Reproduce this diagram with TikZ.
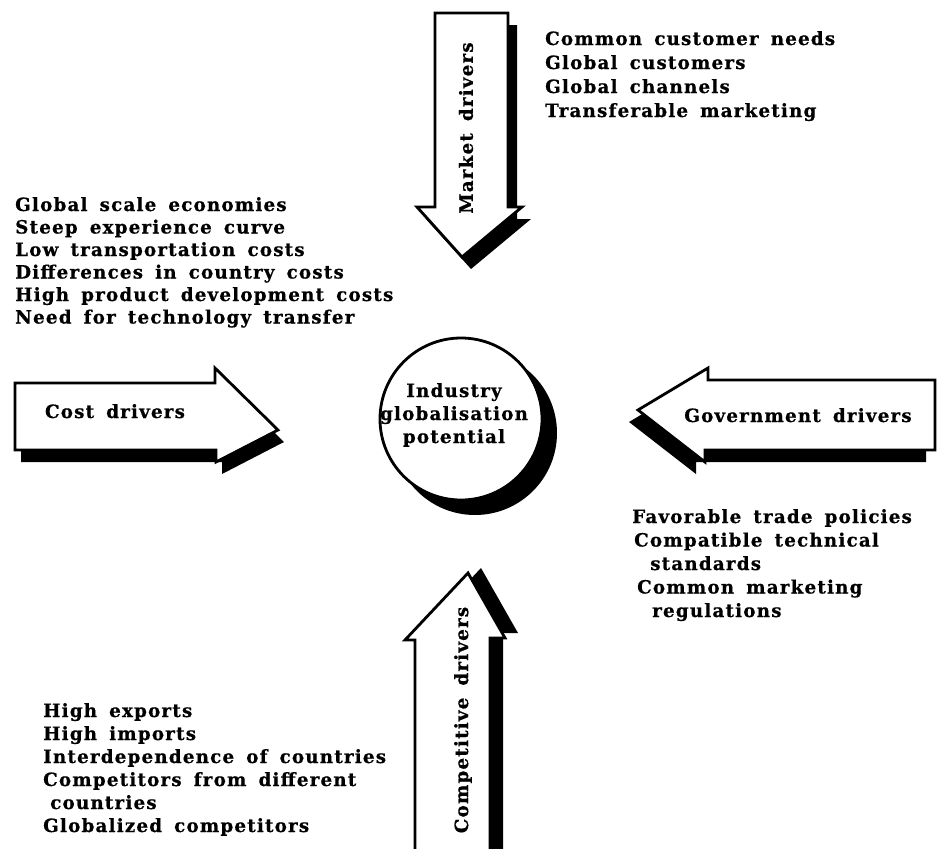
\documentclass[tikz,border=0pt]{standalone}
\usepackage{fontspec}
\newfontfamily\labfont[LetterSpace=6.5,WordSpace=1.6,FakeBold=0.6]{DejaVu Serif}
\begin{document}
\begin{tikzpicture}[x=1pt,y=-1pt,
  outline/.style={draw=black, line width=2.8pt, fill=white, line join=miter},
  shadowfill/.style={fill=black},
  lbl/.style={font=\labfont\bfseries\fontsize{18.3}{23}\selectfont, inner sep=0pt, anchor=base west},
  arrowlbl/.style={lbl, anchor=base},
  sidelbl/.style={lbl, anchor=center}]
\useasboundingbox (0,0) rectangle (938,849);

% Market drivers: arrow pointing down
\fill[shadowfill, shift={(9,12)}] (435,13) -- (508,13) -- (508,207) -- (522,207) -- (462,257) -- (417,207) -- (435,207) -- cycle;
\draw[outline] (435,13) -- (508,13) -- (508,207) -- (522,207) -- (462,257) -- (417,207) -- (435,207) -- cycle;
\node[sidelbl, rotate=90] (market) at (466,128) {Market drivers};

% Cost drivers: arrow pointing right
\fill[shadowfill, shift={(6,12)}] (15,383) -- (215,383) -- (215,368) -- (278,430) -- (216,462) -- (216,450) -- (15,450) -- cycle;
\draw[outline] (15,383) -- (215,383) -- (215,368) -- (278,430) -- (216,462) -- (216,450) -- (15,450) -- cycle;
\node[arrowlbl] (cost) at (115,418) {Cost drivers};

% Government drivers: arrow pointing left
\fill[shadowfill, shift={(-9,12)}] (935,380) -- (708,380) -- (708,368) -- (638,410) -- (705,462) -- (705,450) -- (935,450) -- cycle;
\draw[outline] (935,380) -- (708,380) -- (708,368) -- (638,410) -- (705,462) -- (705,450) -- (935,450) -- cycle;
\node[arrowlbl] (gov) at (798,422) {Government drivers};

% Competitive drivers: arrow pointing up
\fill[shadowfill, shift={(13,-5)}] (415,860) -- (415,640) -- (405,640) -- (468,573) -- (505,638) -- (490,638) -- (490,860) -- cycle;
\draw[outline] (415,860) -- (415,640) -- (405,640) -- (468,573) -- (505,638) -- (490,638) -- (490,860) -- cycle;
\node[sidelbl, rotate=90] (comp) at (463,720) {Competitive drivers};

% Central circle
\fill[shadowfill] (475,433) circle[radius=82];
\draw[outline] (461,419) circle[radius=81];
\node[arrowlbl] (ind1) at (454,397) {Industry};
\node[arrowlbl] (ind2) at (454,420) {globalisation};
\node[arrowlbl] (ind3) at (454,443) {potential};

% Market driver list
\node[lbl] (m1) at (545,45) {Common customer needs};
\node[lbl] (m2) at (545,69) {Global customers};
\node[lbl] (m3) at (545,93) {Global channels};
\node[lbl] (m4) at (545,117) {Transferable marketing};

% Cost driver list
\node[lbl] (c1) at (15,211) {Global scale economies};
\node[lbl] (c2) at (15,233.5) {Steep experience curve};
\node[lbl] (c3) at (15,256) {Low transportation costs};
\node[lbl] (c4) at (15,278.5) {Differences in country costs};
\node[lbl] (c5) at (15,301) {High product development costs};
\node[lbl] (c6) at (15,323.5) {Need for technology transfer};

% Government driver list
\node[lbl] (g1) at (632,523) {Favorable trade policies};
\node[lbl] (g2) at (634,546.5) {Compatible technical};
\node[lbl] (g3) at (650,570) {standards};
\node[lbl] (g4) at (637,593.5) {Common marketing};
\node[lbl] (g5) at (652,617) {regulations};

% Competitive driver list
\node[lbl] (k1) at (43,717) {High exports};
\node[lbl] (k2) at (43,740) {High imports};
\node[lbl] (k3) at (43,763) {Interdependence of countries};
\node[lbl] (k4) at (43,786) {Competitors from different};
\node[lbl] (k5) at (50,809) {countries};
\node[lbl] (k6) at (43,832) {Globalized competitors};
\end{tikzpicture}
\end{document}
